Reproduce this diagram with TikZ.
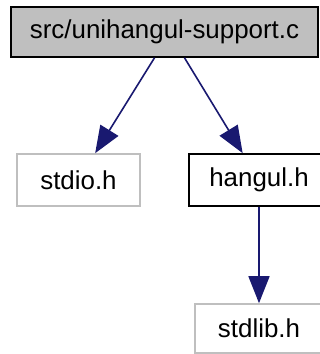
\documentclass[tikz,border=0pt]{standalone}
\usepackage{fontspec}
\setmainfont{Liberation Sans}
\usepackage{xcolor}
\usepackage{tikz}
\usetikzlibrary{arrows.meta}
\definecolor{edgeblue}{RGB}{25,25,112}
\definecolor{filegray}{RGB}{191,191,191}

\begin{document}
\begin{tikzpicture}[
  x=1pt, y=-1pt,
  every node/.style={font=\fontsize{25.9}{31}\selectfont},
  mainfile/.style={draw=black, line width=1.6pt, fill=filegray, inner sep=0pt, minimum height=50pt},
  header/.style={draw=black, line width=1.6pt, fill=white, inner sep=0pt, minimum height=52pt},
  syshdr/.style={draw=filegray, line width=1.6pt, fill=white, inner sep=0pt, minimum height=52pt},
  dep/.style={draw=edgeblue, line width=1.6pt, -{Triangle[length=27pt, width=21pt]}}
]
\clip (0,0) rectangle (320,354);
\fill[white] (0,0) rectangle (320,354);
\node[mainfile, minimum width=307pt] (top) at (164.5,32) {src/unihangul-support.c};
\node[syshdr, minimum width=123pt] (stdio) at (78.5,180) {stdio.h};
\node[header, minimum width=140pt] (hangul) at (259,180) {hangul.h};
\node[syshdr, minimum width=128pt, minimum height=49pt] (stdlib) at (259,328.5) {stdlib.h};
\draw[dep] ([xshift=-10pt]top.south) -- (stdio);
\draw[dep] ([xshift=20pt]top.south) -- (hangul);
\draw[dep] (hangul) -- (stdlib);
\end{tikzpicture}
\end{document}
